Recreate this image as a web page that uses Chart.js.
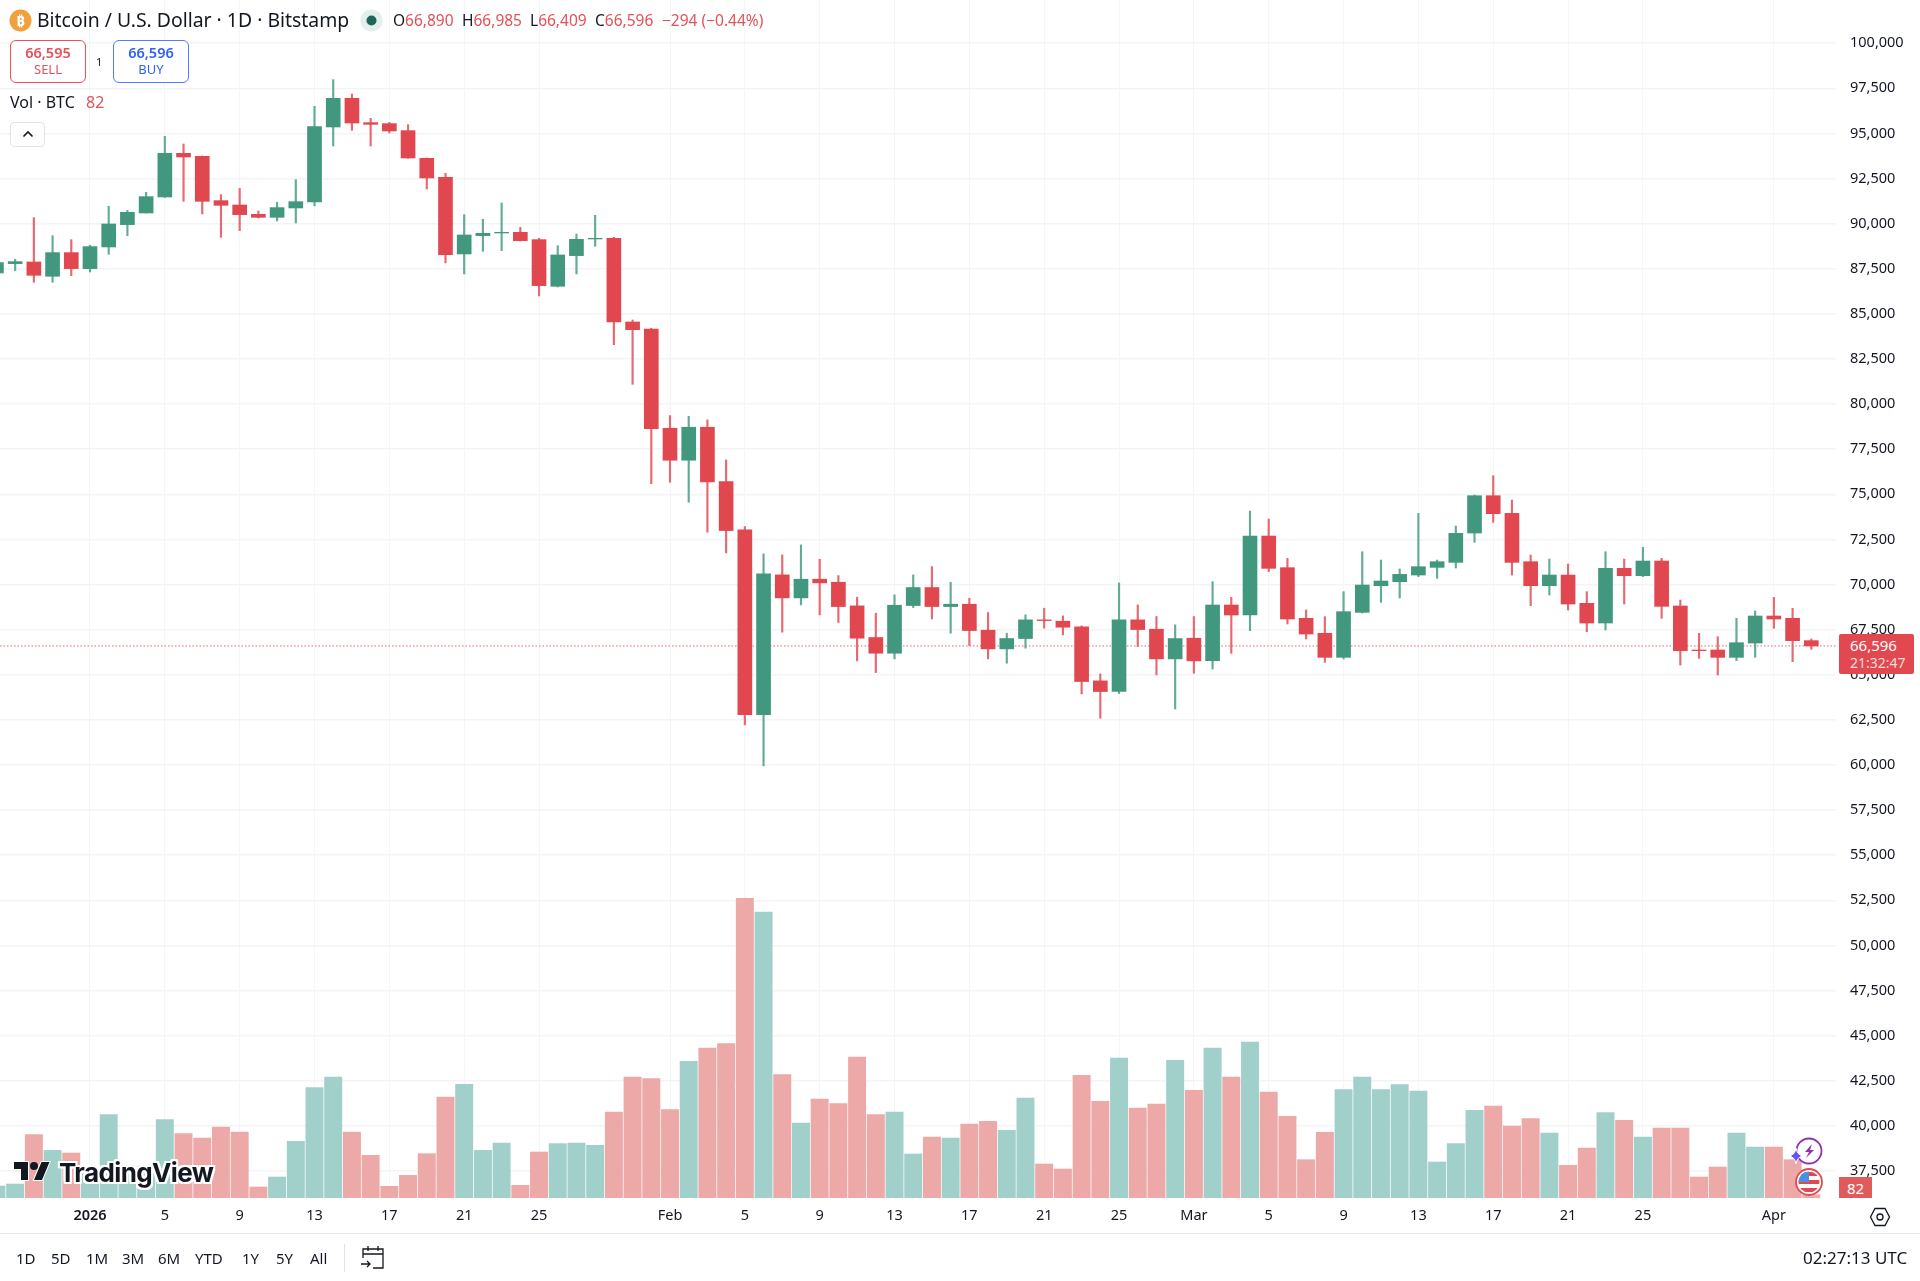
<!DOCTYPE html>
<html>
<head>
<meta charset="utf-8">
<title>BTCUSD 1D</title>
<script src="https://cdn.jsdelivr.net/npm/chart.js@4/dist/chart.umd.min.js"></script>
<style>
    html, body { margin: 0; padding: 0; background: #fff; }
    #wrap { position: relative; width: 1920px; height: 1281px; overflow: hidden; font-family: "Noto Sans", sans-serif; color: #131722; }
    canvas { position: absolute; left: 0; top: 0; }
    .t { position: absolute; white-space: nowrap; line-height: 20px; height: 20px; font-size: 15.5px; }
    .red { color: #e4515a; }
    .range { top: 1248px; font-size: 15px; }
    .box { position: absolute; box-sizing: border-box; }
    svg { position: absolute; overflow: visible; }
</style>
</head>
<body>
<div id="wrap">
    <canvas id="btcChart" width="1920" height="1281"></canvas>

    <!-- cabecera del símbolo -->
    <svg style="left:9px;top:9px" width="23" height="23" viewBox="0 0 23 23">
        <circle cx="11.5" cy="11.5" r="11" fill="#f0a03c"/>
        <text x="11.5" y="17" text-anchor="middle" font-family="Noto Sans" font-weight="700" font-size="15" fill="#fff">₿</text>
    </svg>
    <div class="t" style="left:37px;top:10px;font-size:19.4px">Bitcoin / U.S. Dollar · 1D · Bitstamp</div>
    <svg style="left:360px;top:9px" width="23" height="23" viewBox="0 0 23 23">
        <circle cx="11.5" cy="11.5" r="11" fill="#e3efec"/>
        <circle cx="11.5" cy="11.5" r="5" fill="#1d6657"/>
    </svg>
    <div class="t" style="left:393px;top:10px">O<span class="red">66,890</span></div>
    <div class="t" style="left:462px;top:10px">H<span class="red">66,985</span></div>
    <div class="t" style="left:530px;top:10px">L<span class="red">66,409</span></div>
    <div class="t" style="left:595px;top:10px">C<span class="red">66,596</span></div>
    <div class="t red" style="left:662px;top:10px">−294 (−0.44%)</div>

    <!-- botones de compra y venta -->
    <div class="box" style="left:10px;top:40px;width:76px;height:43px;border:1px solid #e9505a;border-radius:6px;background:#fff"></div>
    <div class="t red" style="left:10px;width:76px;text-align:center;top:42px;font-weight:600;font-size:14.5px">66,595</div>
    <div class="t red" style="left:10px;width:76px;text-align:center;top:59px;font-size:13px">SELL</div>
    <div class="t" style="left:96px;top:52px;font-size:11px">1</div>
    <div class="box" style="left:113px;top:40px;width:76px;height:43px;border:1px solid #4c7dff;border-radius:6px;background:#fff"></div>
    <div class="t" style="left:113px;width:76px;text-align:center;top:42px;color:#2f62f5;font-weight:600;font-size:14.5px">66,596</div>
    <div class="t" style="left:113px;width:76px;text-align:center;top:59px;color:#2f62f5;font-size:13px">BUY</div>

    <div class="t" style="left:10px;top:92px;font-size:16px">Vol · BTC</div>
    <div class="t red" style="left:86px;top:92px;font-size:16px">82</div>
    <div class="box" style="left:10px;top:122px;width:35px;height:25px;border:1px solid #e0e3eb;border-radius:4px;background:#fff"></div>
    <svg style="left:22px;top:130px" width="12" height="8" viewBox="0 0 12 8">
        <path d="M1.5 6.5 L6 2 L10.5 6.5" fill="none" stroke="#131722" stroke-width="1.6"/>
    </svg>

    <!-- logo -->
    <svg style="left:13px;top:1158px" width="38" height="24" viewBox="0 0 36 24">
        <path d="M14 22H7V11H0V4h14v18zM28 22h-8l7.5-18h8L28 22z" fill="#131722" stroke="#fff" stroke-width="2" paint-order="stroke"/>
        <circle cx="20" cy="8" r="4" fill="#131722"/>
    </svg>
    <div class="t" style="left:59px;top:1157px;height:32px;line-height:32px;font-family:Inter;font-weight:700;font-size:26px;letter-spacing:-0.6px;text-shadow:-2px 0 #fff,2px 0 #fff,0 -2px #fff,0 2px #fff,-2px -2px #fff,2px 2px #fff,-2px 2px #fff,2px -2px #fff">TradingView</div>

    <!-- etiqueta del último precio y del volumen -->
    <div class="box" id="priceTag" style="left:1839px;width:75px;height:40px;background:#e2484f;border-radius:2px"></div>
    <div class="t" id="priceText" style="left:1850px;color:#fff;font-size:15px">66,596</div>
    <div class="t" id="timeText" style="left:1850px;color:#f7dcdc;font-size:14px">21:32:47</div>
    <div class="box" id="volTag" style="left:1839px;width:33px;height:21px;background:#e05c5c"></div>
    <div class="t" id="volText" style="left:1839px;width:33px;text-align:center;color:#fff;font-size:15px">82</div>

    <!-- iconos sobre el eje -->
    <svg style="left:1790px;top:1136px" width="36" height="60" viewBox="0 0 36 60">
        <circle cx="19" cy="15" r="12.5" fill="#fff" stroke="#8a34b5" stroke-width="1.8"/>
        <path d="M22 8 L15 16 L19 16 L16 22 L24 14 L20 14 Z" fill="#8a34b5"/>
        <path d="M6 12 Q7 19 13 20 Q7 21 6 28 Q5 21 -1 20 Q5 19 6 12 Z" fill="#6a4dff" stroke="#fff" stroke-width="1"/>
        <defs><clipPath id="flagClip"><circle cx="19" cy="46" r="10.5"/></clipPath></defs>
        <circle cx="19" cy="46" r="13" fill="#fff" stroke="#e2484f" stroke-width="1.8"/>
        <g clip-path="url(#flagClip)">
            <rect x="8" y="35" width="22" height="22" fill="#fff"/>
            <rect x="8" y="36" width="22" height="4" fill="#e2484f"/>
            <rect x="8" y="44" width="22" height="4" fill="#e2484f"/>
            <rect x="8" y="52" width="22" height="4" fill="#e2484f"/>
            <rect x="8" y="35" width="11" height="11" fill="#4a90e2"/>
        </g>
    </svg>
    <svg style="left:1869px;top:1207px" width="22" height="20" viewBox="0 0 22 20">
        <path d="M6 1.5 H16 L20.5 10 L16 18.5 H6 L1.5 10 Z" fill="none" stroke="#131722" stroke-width="1.3"/>
        <circle cx="11" cy="10" r="3" fill="none" stroke="#131722" stroke-width="1.3"/>
    </svg>

    <!-- barra inferior -->
    <div class="box" style="left:0;top:1233px;width:1920px;height:1px;background:#e8eaee"></div>
    <div class="t range" style="left:16px">1D</div>
    <div class="t range" style="left:51px">5D</div>
    <div class="t range" style="left:86px">1M</div>
    <div class="t range" style="left:122px">3M</div>
    <div class="t range" style="left:158px">6M</div>
    <div class="t range" style="left:195px">YTD</div>
    <div class="t range" style="left:242px">1Y</div>
    <div class="t range" style="left:276px">5Y</div>
    <div class="t range" style="left:310px">All</div>
    <div class="box" style="left:344px;top:1244px;width:1px;height:28px;background:#e0e3eb"></div>
    <svg style="left:361px;top:1246px" width="24" height="24" viewBox="0 0 24 24" fill="none" stroke="#131722" stroke-width="1.3">
        <path d="M2 12 V3 H22 V22 H12"/>
        <path d="M2 8 H22 M7 0 V5 M17 0 V5"/>
        <path d="M0 18 H9 M6 15 L9 18 L6 21"/>
    </svg>
    <div class="t range" style="left:1803px;font-size:17px">02:27:13 UTC</div>
</div>

<script>
    // Velas diarias BTC/USD, del 27 dic 2025 al 3 abr 2026
    const opens = [87266, 87784, 87876, 87082, 88393, 87507, 88707, 89945, 90591, 91478, 93897, 93731, 91274, 91034, 90517, 90351, 90868, 91201, 95356, 96945, 95596, 95541, 95153, 93620, 92567, 88319, 89335, 89483, 89520, 89113, 86528, 88227, 89150, 89187, 84549, 84161, 78660, 76887, 78716, 75705, 73027, 62794, 70534, 69259, 70294, 70127, 68816, 67062, 66193, 68835, 69833, 68779, 68908, 67468, 66433, 67006, 68041, 67967, 67653, 64660, 64069, 68041, 67523, 65879, 67025, 65780, 68864, 68310, 72687, 70933, 68125, 67294, 65964, 68458, 69935, 70157, 70526, 70951, 71228, 72854, 74922, 73943, 71265, 69935, 70526, 68957, 67867, 70896, 70489, 71302, 68809, 66371, 66371, 65964, 66758, 68255, 68125, 66890];
    const highs = [87900, 88024, 90332, 89335, 89113, 88800, 90960, 90739, 91736, 94839, 94414, 93750, 91607, 91958, 90702, 91182, 92438, 96501, 97979, 97185, 95837, 95615, 95486, 93640, 92789, 90499, 90240, 91145, 89797, 89187, 88781, 89427, 90462, 89243, 84660, 84200, 79362, 79325, 79122, 76904, 73212, 71697, 71642, 72196, 71402, 70496, 69296, 68410, 69426, 70533, 70995, 70127, 69241, 68447, 67302, 68317, 68687, 68262, 67708, 65046, 70090, 68871, 68225, 67764, 68225, 70157, 69289, 74072, 73629, 71450, 68587, 68218, 69603, 71819, 71358, 70859, 73943, 71358, 73241, 74959, 76030, 74682, 71635, 71413, 71136, 69603, 71819, 71413, 72059, 71450, 69141, 67294, 67109, 68125, 68532, 69289, 68679, 66985];
    const lows = [87200, 87396, 86749, 86749, 87119, 87322, 88301, 89335, 90591, 91450, 91237, 90536, 89243, 89612, 90314, 90148, 90037, 90979, 94303, 95172, 94303, 95024, 93620, 91921, 87821, 87211, 88467, 88504, 89040, 85992, 86490, 87211, 88744, 83291, 81096, 75587, 75668, 74560, 72898, 71753, 62222, 59950, 67357, 68871, 68317, 67892, 65769, 65119, 65879, 68724, 68096, 67302, 66618, 65879, 65639, 66470, 67577, 67210, 63937, 62592, 63957, 66562, 64993, 63103, 65082, 65318, 66186, 67442, 70711, 67811, 66980, 65687, 65872, 68421, 69012, 69252, 70434, 70342, 70914, 72336, 73445, 70526, 68827, 69418, 68587, 67387, 67479, 68920, 70434, 68125, 65539, 65909, 64985, 65780, 65964, 67571, 65724, 66409];
    const closes = [87839, 87894, 87137, 88393, 87507, 88726, 89982, 90628, 91496, 93897, 93694, 91237, 91016, 90499, 90351, 90887, 91219, 95375, 96945, 95578, 95504, 95135, 93639, 92530, 88282, 89372, 89464, 89520, 89058, 86565, 88264, 89132, 89187, 84549, 84122, 78635, 76887, 78716, 75687, 72990, 62794, 70589, 69259, 70294, 70090, 68779, 67025, 66193, 68853, 69833, 68779, 68908, 67449, 66433, 67006, 68041, 68004, 67634, 64623, 64069, 68041, 67505, 65879, 67006, 65768, 68864, 68310, 72687, 70896, 68088, 67257, 65964, 68495, 69972, 70194, 70563, 70988, 71265, 72835, 74922, 73925, 71228, 69935, 70526, 68920, 67867, 70896, 70489, 71302, 68790, 66334, 66334, 65964, 66777, 68255, 68088, 66887, 66596];
    const volumes = [300, 350, 1583, 1191, 1125, 750, 2083, 700, 800, 1958, 1608, 1500, 1775, 1650, 275, 525, 1416, 2758, 3025, 1650, 1066, 292, 566, 1108, 2525, 2841, 1191, 1375, 316, 1150, 1358, 1375, 1316, 2150, 3025, 2983, 2208, 3416, 3750, 3858, 7490, 7149, 3083, 1875, 2475, 2358, 3525, 2083, 2150, 1100, 1525, 1500, 1850, 1916, 1691, 2500, 850, 725, 3066, 2416, 3500, 2250, 2350, 3441, 2691, 3750, 3025, 3900, 2650, 2041, 958, 1641, 2708, 3025, 2708, 2833, 2675, 900, 1358, 2191, 2300, 1800, 1983, 1625, 816, 1250, 2133, 1941, 1525, 1750, 1750, 525, 775, 1625, 1275, 1275, 958, 82];

    // Posición de cada etiqueta del eje X (en días desde la primera vela)
    const tickDays = [5, 9, 13, 17, 21, 25, 29, 36, 40, 44, 48, 52, 56, 60, 64, 68, 72, 76, 80, 84, 88, 95];
    const tickLabels = ['2026', '5', '9', '13', '17', '21', '25', 'Feb', '5', '9', '13', '17', '21', '25', 'Mar', '5', '9', '13', '17', '21', '25', 'Apr'];
    const priceTicks = [37500, 40000, 42500, 45000, 47500, 50000, 52500, 55000, 57500, 60000, 62500, 65000, 67500, 70000, 72500, 75000, 77500, 80000, 82500, 85000, 87500, 90000, 92500, 95000, 97500, 100000];

    const lastClose = closes[closes.length - 1];
    const lastVolume = volumes[volumes.length - 1];

    // Colores de las velas
    const UP = '#42977f';
    const DOWN = '#e0474f';
    const WICK_UP = '#62ab97';
    const WICK_DOWN = '#e8686f';
    const VOL_UP = '#a1d0ca';
    const VOL_DOWN = '#eca9a8';

    const isUp = opens.map((o, i) => closes[i] >= o);
    const X_MIN = 0.19;
    const X_MAX = 98.32;

    const volumeData = volumes.map((v, i) => ({ x: i, y: v }));
    const wickData = highs.map((h, i) => ({ x: i, y: [lows[i], h] }));
    const bodyData = opens.map((o, i) => ({ x: i, y: [o, closes[i]] }));

    const chart = new Chart(document.getElementById('btcChart').getContext('2d'), {
        data: {
            datasets: [
                {
                    type: 'line',
                    data: [{ x: X_MIN, y: lastClose }, { x: X_MAX, y: lastClose }],
                    yAxisID: 'y',
                    borderColor: '#e8636a',
                    borderWidth: 1,
                    borderDash: [1.5, 2],
                    pointRadius: 0,
                    order: 4
                },
                {
                    type: 'bar',
                    data: volumeData,
                    yAxisID: 'volumen',
                    backgroundColor: isUp.map(u => u ? VOL_UP : VOL_DOWN),
                    barThickness: 17.3,
                    grouped: false,
                    barPercentage: 1,
                    categoryPercentage: 1,
                    order: 5
                },
                {
                    type: 'bar',
                    data: wickData,
                    yAxisID: 'y',
                    backgroundColor: isUp.map(u => u ? WICK_UP : WICK_DOWN),
                    barThickness: 1.5,
                    grouped: false,
                    barPercentage: 1,
                    categoryPercentage: 1,
                    order: 3
                },
                {
                    type: 'bar',
                    data: bodyData,
                    yAxisID: 'y',
                    backgroundColor: isUp.map(u => u ? UP : DOWN),
                    barThickness: 14,
                    grouped: false,
                    barPercentage: 1,
                    categoryPercentage: 1,
                    order: 2
                }
            ]
        },
        options: {
            responsive: false,
            animation: false,
            layout: { padding: 0, autoPadding: false },
            plugins: { legend: { display: false }, tooltip: { enabled: false } },
            scales: {
                x: {
                    type: 'linear',
                    offset: false,
                    min: X_MIN,
                    max: X_MAX,
                    afterBuildTicks: scale => { scale.ticks = tickDays.map(d => ({ value: d })); },
                    afterFit: scale => { scale.height = 83; scale.paddingLeft = 0; scale.paddingRight = 0; },
                    border: { display: false },
                    grid: { color: '#f4f5f7', lineWidth: 1, drawTicks: false, offset: false },
                    ticks: {
                        autoSkip: false,
                        maxRotation: 0,
                        padding: 9,
                        color: '#131722',
                        font: ctx => ({ family: 'Noto Sans', size: 14.5, weight: ctx.index === 0 ? '600' : '400' }),
                        callback: value => tickLabels[tickDays.indexOf(value)]
                    }
                },
                y: {
                    position: 'right',
                    min: 36001,
                    max: 102394,
                    afterBuildTicks: scale => { scale.ticks = priceTicks.map(p => ({ value: p })); },
                    afterFit: scale => { scale.width = 84; scale.paddingTop = 0; scale.paddingBottom = 0; },
                    border: { display: false },
                    grid: { color: '#f3f4f6', lineWidth: 1.5, drawTicks: false },
                    ticks: {
                        autoSkip: false,
                        padding: 14,
                        crossAlign: 'near',
                        color: '#131722',
                        font: { family: 'Noto Sans', size: 14.5 },
                        callback: value => value.toLocaleString('en-US')
                    }
                },
                // El volumen comparte el panel, sin eje visible
                volumen: {
                    display: false,
                    position: 'right',
                    min: 0,
                    max: 29950,
                    grid: { display: false }
                }
            }
        }
    });

    // Colocar las etiquetas del eje según la escala
    const priceY = chart.scales.y.getPixelForValue(lastClose);
    document.getElementById('priceTag').style.top = (priceY - 12) + 'px';
    document.getElementById('priceText').style.top = (priceY - 11) + 'px';
    document.getElementById('timeText').style.top = (priceY + 7) + 'px';
    const volY = chart.scales.volumen.getPixelForValue(0);
    document.getElementById('volTag').style.top = (volY - 21) + 'px';
    document.getElementById('volText').style.top = (volY - 20) + 'px';
    document.getElementById('volText').textContent = lastVolume;
</script>
</body>
</html>
